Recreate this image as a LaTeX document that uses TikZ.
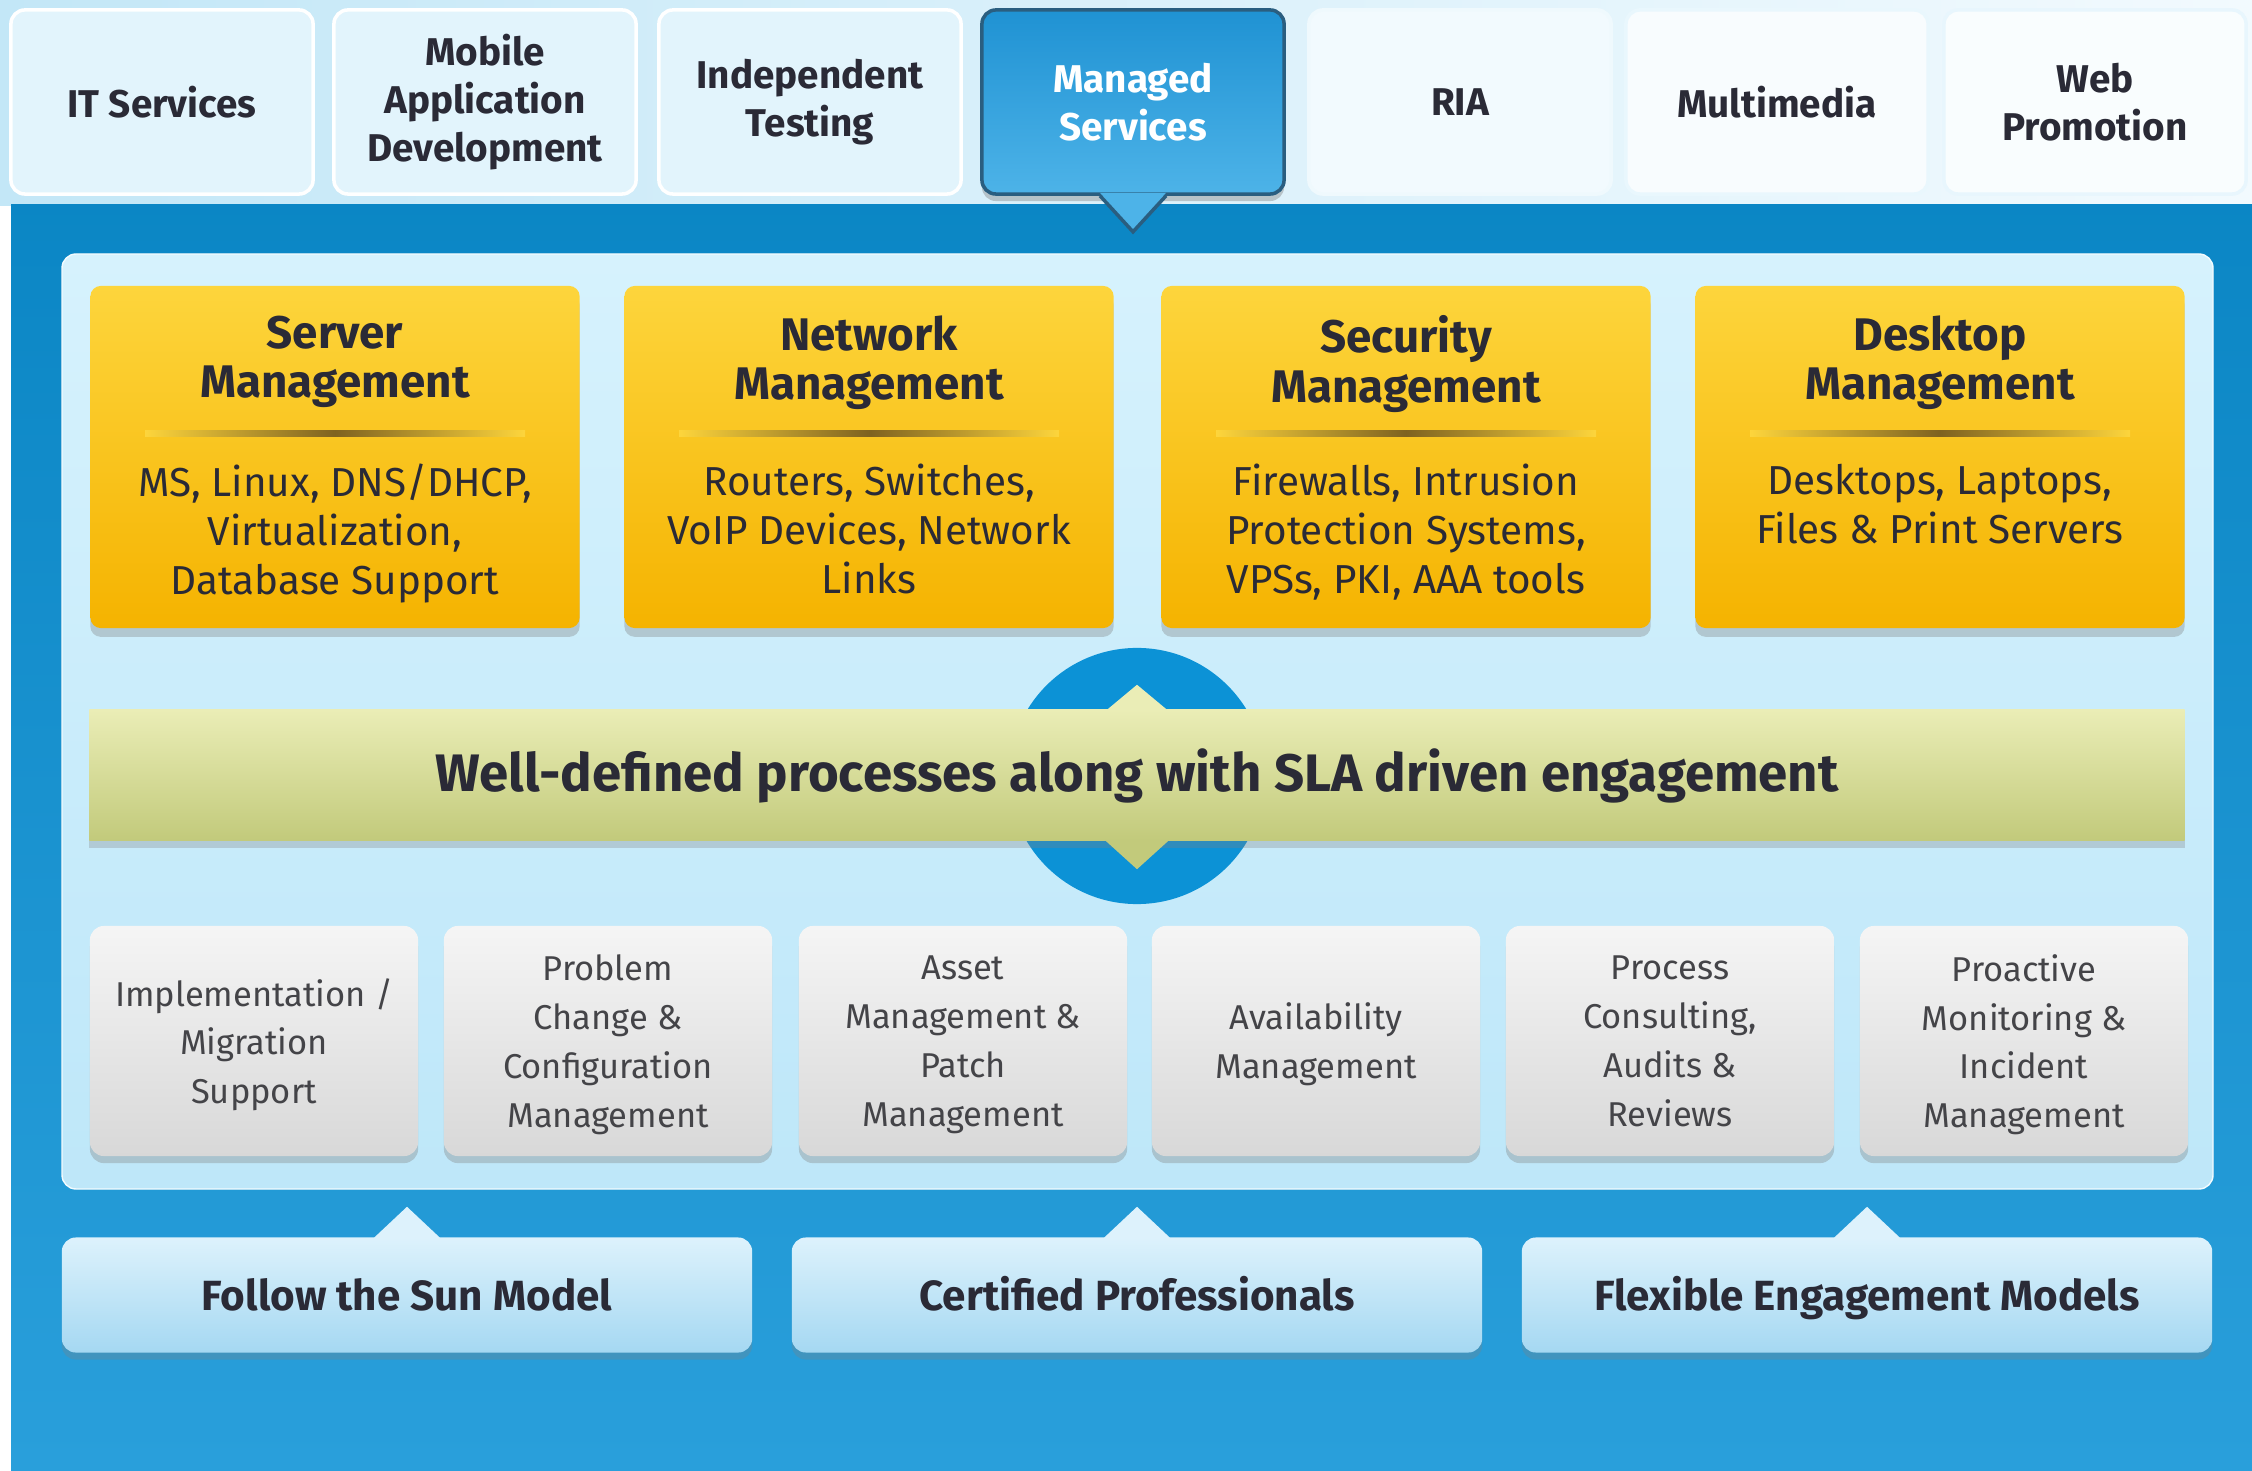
\documentclass[tikz,border=0pt]{standalone}
\usepackage{fontspec}
\setmainfont{Fira Sans}
\usetikzlibrary{positioning,shadows,calc}
\definecolor{skyleft}{HTML}{C3E7F7}
\definecolor{skyright}{HTML}{F2FAFE}
\definecolor{tabfill}{HTML}{E2F4FC}
\definecolor{msvtop}{HTML}{1F92D3}
\definecolor{msvbot}{HTML}{4DB3E8}
\definecolor{msvline}{HTML}{2A5E80}
\definecolor{bandblue}{HTML}{0C92D6}
\definecolor{paneltop}{HTML}{D6F2FD}
\definecolor{panelbot}{HTML}{BEE7F9}
\definecolor{mgtop}{HTML}{FDD53C}
\definecolor{mgbot}{HTML}{F5B300}
\definecolor{mgsep}{HTML}{7E6220}
\definecolor{slatop}{HTML}{EAEDB6}
\definecolor{slabot}{HTML}{C2CA7B}
\definecolor{svctop}{HTML}{F5F5F5}
\definecolor{svcbot}{HTML}{D8D8D8}
\definecolor{valtop}{HTML}{DDF2FC}
\definecolor{valbot}{HTML}{A5D8F2}
\definecolor{inkdark}{HTML}{2A2A36}
\definecolor{inkgrey}{HTML}{444448}
\tikzset{
    tabbox/.style={rectangle,rounded corners=4pt,draw=white,line width=1pt,fill=tabfill,
        minimum width=3.02cm,minimum height=1.84cm,align=center,text=inkdark,
        font=\fontsize{11}{13.7}\selectfont\bfseries},
    activetab/.style={tabbox,draw=msvline,top color=msvtop,bottom color=msvbot,text=white,
        drop shadow={shadow xshift=0pt,shadow yshift=-2pt,opacity=0.4}},
    mgmtbox/.style={rectangle,rounded corners=3pt,top color=mgtop,bottom color=mgbot,
        minimum width=4.89cm,minimum height=3.42cm,
        drop shadow={shadow xshift=0pt,shadow yshift=-2.5pt,opacity=0.35}},
    mgmthead/.style={inner sep=0pt,align=center,text=inkdark,execute at begin node=\strut,
        font=\fontsize{13}{14}\selectfont\bfseries},
    mgmtbody/.style={inner sep=0pt,align=center,text=inkdark,execute at begin node=\strut,
        font=\fontsize{11.5}{13.9}\selectfont},
    slabar/.style={rectangle,top color=slatop,bottom color=slabot,minimum width=20.94cm,
        minimum height=1.31cm,text=inkdark,text height=2.05ex,text depth=0.3ex,
        font=\fontsize{15}{17}\selectfont\bfseries,
        drop shadow={shadow xshift=0pt,shadow yshift=-2pt,opacity=0.3}},
    svcbox/.style={rectangle,rounded corners=4pt,top color=svctop,bottom color=svcbot,
        minimum width=3.28cm,minimum height=2.30cm,align=center,text=inkgrey,
        font=\fontsize{9.8}{13.9}\selectfont,
        drop shadow={shadow xshift=0pt,shadow yshift=-2pt,opacity=0.35}},
    valuebox/.style={rectangle,rounded corners=4pt,top color=valtop,bottom color=valbot,
        minimum width=6.9cm,minimum height=1.15cm,text=inkdark,text height=1.95ex,text depth=0.3ex,
        font=\fontsize{12}{14}\selectfont\bfseries,
        drop shadow={shadow xshift=0pt,shadow yshift=-2pt,opacity=0.3}}
}
\begin{document}
\begin{tikzpicture}[x=0.01cm,y=-0.01cm]
    \useasboundingbox (0,0) rectangle (2252,1471);
    \shade[left color=skyleft,right color=skyright] (0,0) rectangle (2252,206);
    \shade[top color=bandblue!92!black,bottom color=bandblue!88!white] (11,205) rectangle (2252,1471);

    \foreach \x/\lab/\tint [count=\i] in {162/IT Services/100,485/{Mobile\\Application\\Development}/100,
        810/{Independent\\Testing}/100,1460/RIA/45,1777/Multimedia/25,2095/{Web\\Promotion}/20}
        \node[tabbox,fill=tabfill!\tint!white,draw=white!\tint!tabfill] (tab\i) at (\x,102) {\lab};
    \node[activetab] (msv) at (1133,102) {Managed\\Services};
    \fill[msvbot] ($(msv.south)+(-33,-3)$) -- ($(msv.south)+(0,36)$) -- ($(msv.south)+(33,-3)$) -- cycle;
    \draw[msvline,line width=1pt] ($(msv.south)+(-33,0)$) -- ($(msv.south)+(0,36)$) -- ($(msv.south)+(33,0)$);

    \shade[top color=paneltop,bottom color=panelbot,rounded corners=4pt,draw=white!70!paneltop]
        (62,254) rectangle (2213,1189);
    \node[circle,fill=bandblue,minimum size=2.56cm,inner sep=0pt] (hub) at (1137,776) {};

    \foreach \x/\head/\body [count=\i] in {335/{Server\\Management}/{MS, Linux, DNS/DHCP,\\Virtualization,\\Database Support},
        869/{Network\\Management}/{Routers, Switches,\\VoIP Devices, Network\\Links},
        1406/{Security\\Management}/{Firewalls, Intrusion\\Protection Systems,\\VPSs, PKI, AAA tools},
        1940/{Desktop\\Management}/{Desktops, Laptops,\\Files \& Print Servers}}
    {
        \node[mgmtbox] (mg\i) at (\x,457) {};
        \node[mgmthead,below=0.30cm of mg\i.north] (mgh\i) {\head};
        \shade[left color=mgtop,right color=mgtop,middle color=mgsep]
            ($(mg\i.north)+(-190,145)$) rectangle ($(mg\i.north)+(190,151)$);
        \node[mgmtbody,below=1.78cm of mg\i.north] (mgb\i) {\body};
    }

    \node[slabar] (sla) at (1137,775) {Well-defined processes along with SLA driven engagement};
    \fill[slatop] ($(sla.north)+(-30,1)$) -- ($(sla.north)+(0,-24)$) -- ($(sla.north)+(30,1)$) -- cycle;
    \fill[slabot] ($(sla.south)+(-32,-1)$) -- ($(sla.south)+(0,28)$) -- ($(sla.south)+(32,-1)$) -- cycle;

    \foreach \x/\lab [count=\i] in {254/{Implementation /\\Migration\\Support},
        608/{Problem\\Change \&\\Configuration\\Management},963/{Asset\\Management \&\\Patch\\Management},
        1316/{Availability\\Management},1670/{Process\\Consulting,\\Audits \&\\Reviews},
        2024/{Proactive\\Monitoring \&\\Incident\\Management}}
        \node[svcbox,text depth=0pt] (svc\i) at (\x,1041) {\lab};

    \foreach \x/\lab [count=\i] in {407/Follow the Sun Model,1137/Certified Professionals,1867/Flexible Engagement Models}
    {
        \node[valuebox] (val\i) at (\x,1295) {\lab};
        \fill[valtop] ($(val\i.north)+(-33,1)$) -- ($(val\i.north)+(0,-30)$) -- ($(val\i.north)+(33,1)$) -- cycle;
    }
\end{tikzpicture}
\end{document}
